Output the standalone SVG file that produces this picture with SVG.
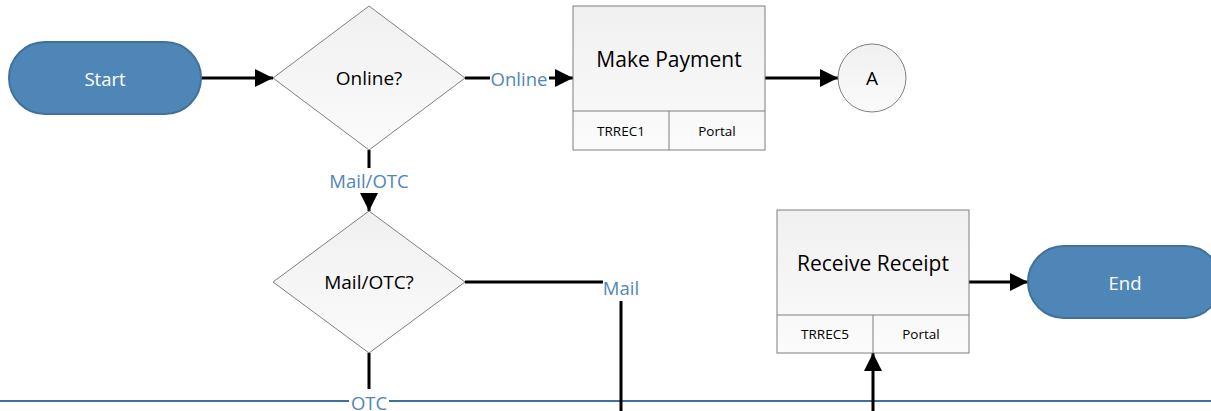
<svg xmlns="http://www.w3.org/2000/svg" width="1211" height="411" viewBox="0 0 1211 411">
<defs>
<linearGradient id="g" x1="0" y1="0" x2="0" y2="1">
<stop offset="0" stop-color="#f0f0f0"/>
<stop offset="1" stop-color="#fbfbfb"/>
</linearGradient>
<marker id="ah" viewBox="0 0 10 10" refX="10" refY="5" markerWidth="6" markerHeight="6" markerUnits="strokeWidth" orient="auto">
<path d="M0,0 L10,5 L0,10 z" fill="#000"/>
</marker>
</defs>
<style>
text{font-family:"Open Sans","Noto Sans","Liberation Sans",sans-serif;text-anchor:middle;dominant-baseline:central}
.term{fill:#4f86b8;stroke:#41709b;stroke-width:2}
.tt{fill:#fff;font-size:18.5px}
.box{fill:url(#g);stroke:#7f7f7f;stroke-width:1}
.div{stroke:#7f7f7f;stroke-width:1;fill:none}
.big{fill:#000;font-size:21px}
.mid{fill:#000;font-size:19px}
.sm{fill:#000;font-size:13.5px}
.c{stroke:#000;stroke-width:3;fill:none}
.lbl{fill:#4f86b8;font-size:18.5px}
.bg{fill:#fff}
.lane{stroke:#41709b;stroke-width:2;fill:none}
</style>
<line class="lane" x1="0" y1="401" x2="1211" y2="401"/>
<g id="connectors">
<line class="c" x1="201" y1="78" x2="273" y2="78" marker-end="url(#ah)"/>
<line class="c" x1="465" y1="78" x2="490" y2="78"/>
<line class="c" x1="549" y1="78" x2="573" y2="78" marker-end="url(#ah)"/>
<text class="lbl" x="519" y="78">Online</text>
<line class="c" x1="765" y1="78" x2="838" y2="78" marker-end="url(#ah)"/>
<line class="c" x1="369" y1="150" x2="369" y2="168"/>
<text class="lbl" x="369" y="180">Mail/OTC</text>
<line class="c" x1="369" y1="193" x2="369" y2="211" marker-end="url(#ah)"/>
<line class="c" x1="465" y1="282" x2="603" y2="282"/>
<text class="lbl" x="621" y="287">Mail</text>
<line class="c" x1="621" y1="301" x2="621" y2="411"/>
<line class="c" x1="369" y1="353" x2="369" y2="389"/>
<rect class="bg" x="349" y="391" width="40" height="20"/>
<text class="lbl" x="369" y="402">OTC</text>
<line class="c" x1="873" y1="411" x2="873" y2="353" marker-end="url(#ah)"/>
<line class="c" x1="969" y1="282" x2="1028" y2="282" marker-end="url(#ah)"/>
</g>
<g id="start">
<rect class="term" x="9" y="42" width="192" height="72" rx="36"/>
<text class="tt" x="105" y="78">Start</text>
</g>
<g id="online">
<polygon class="box" points="369,6 465,78 369,150 273,78"/>
<text class="mid" x="369" y="78">Online?</text>
</g>
<g id="makepayment">
<rect class="box" x="573" y="6" width="192" height="144"/>
<line class="div" x1="573" y1="111" x2="765" y2="111"/>
<line class="div" x1="669" y1="111" x2="669" y2="150"/>
<text class="big" x="669" y="59">Make Payment</text>
<text class="sm" x="621" y="131">TRREC1</text>
<text class="sm" x="717" y="131">Portal</text>
</g>
<g id="a">
<circle cx="872" cy="78" r="34" fill="url(#g)" stroke="#7f7f7f" stroke-width="1"/>
<text class="mid" x="872" y="78">A</text>
</g>
<g id="mailotc">
<polygon class="box" points="369,211 465,282 369,353 273,282"/>
<text class="mid" x="369" y="282">Mail/OTC?</text>
</g>
<g id="receivereceipt">
<rect class="box" x="777" y="210" width="192" height="143"/>
<line class="div" x1="777" y1="315" x2="969" y2="315"/>
<line class="div" x1="873" y1="315" x2="873" y2="353"/>
<text class="big" x="873" y="263">Receive Receipt</text>
<text class="sm" x="825" y="334">TRREC5</text>
<text class="sm" x="921" y="334">Portal</text>
</g>
<g id="end">
<rect class="term" x="1028" y="246" width="193" height="72" rx="36"/>
<text class="tt" x="1125" y="282">End</text>
</g>
</svg>
